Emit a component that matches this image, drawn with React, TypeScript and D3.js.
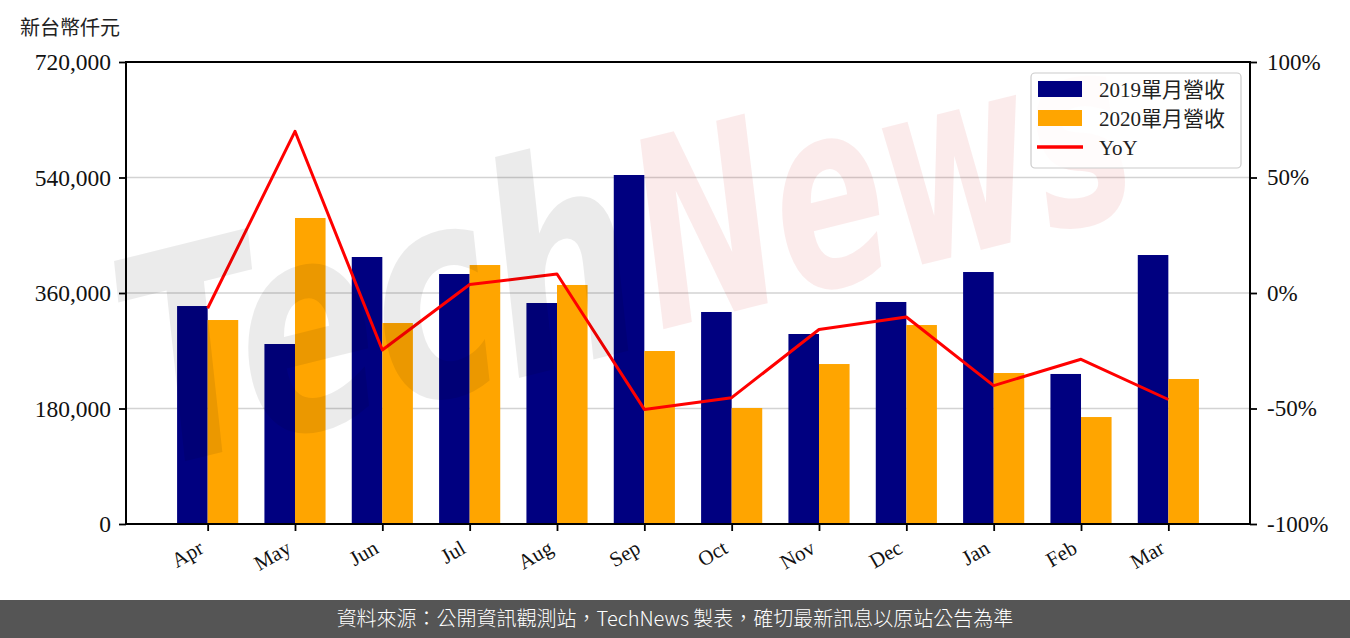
import React, { useEffect, useRef } from "react";
import * as d3 from "d3";

const months = ["Apr", "May", "Jun", "Jul", "Aug", "Sep", "Oct", "Nov", "Dec", "Jan", "Feb", "Mar"];
const rev2019 = [339700, 280500, 416100, 389600, 344400, 543900, 330400, 296100, 346000, 392700, 233800, 419200];
const rev2020 = [317900, 476900, 313200, 403600, 372500, 269600, 180800, 249300, 310100, 235300, 166700, 226000];
const yoy = [-6.6, 70.0, -24.7, 3.7, 8.2, -50.4, -45.3, -15.8, -10.4, -40.1, -28.7, -46.1];
const leftTicks = [0, 180000, 360000, 540000, 720000];
const rightTicks = [-100, -50, 0, 50, 100];
const legendLabels = ["2019單月營收", "2020單月營收", "YoY"];
const unitLabel = "新台幣仟元";
const footerText = "資料來源：公開資訊觀測站，TechNews 製表，確切最新訊息以原站公告為準";

const W = 1350, H = 638;
const L = 126, R = 1250, T = 62, B = 524;
const NAVY = "#000080", ORANGE = "#FFA500", RED = "#FF0000";
const SERIF = "'Liberation Serif', 'Noto Sans CJK TC', serif";

export default function App() {
  const ref = useRef<SVGSVGElement>(null);

  useEffect(() => {
    const svg = d3.select(ref.current);
    svg.selectAll("*").remove();

    const x = d3.scaleLinear().domain([-0.935, 11.935]).range([L, R]);
    const yL = d3.scaleLinear().domain([0, 720000]).range([B, T]);
    const yR = d3.scaleLinear().domain([-100, 100]).range([B, T]);
    const bw = 0.35;

    svg.append("rect").attr("width", W).attr("height", H).attr("fill", "#fff");

    // grid
    svg.append("g").selectAll("line").data(leftTicks.slice(1, -1)).join("line")
      .attr("x1", L).attr("x2", R)
      .attr("y1", (d) => yL(d)).attr("y2", (d) => yL(d))
      .attr("stroke", "#d3d3d3").attr("stroke-width", 1.5);

    // bars
    svg.append("g").selectAll("rect").data(rev2019).join("rect")
      .attr("x", (_, i) => x(i - bw)).attr("width", x(bw) - x(0))
      .attr("y", (d) => yL(d)).attr("height", (d) => B - yL(d))
      .attr("fill", NAVY);
    svg.append("g").selectAll("rect").data(rev2020).join("rect")
      .attr("x", (_, i) => x(i)).attr("width", x(bw) - x(0))
      .attr("y", (d) => yL(d)).attr("height", (d) => B - yL(d))
      .attr("fill", ORANGE);

    // yoy line
    const line = d3.line<number>().x((_, i) => x(i)).y((d) => yR(d));
    svg.append("path").datum(yoy).attr("d", line)
      .attr("fill", "none").attr("stroke", RED).attr("stroke-width", 3)
      .attr("stroke-linejoin", "round");

    // watermark (decorative, drawn as two faint shapes of text)
    const wm = svg.append("g").attr("pointer-events", "none").attr("aria-hidden", "true");
    wm.append("text")
      .attr("transform", "translate(150,470) rotate(-14)")
      .attr("font-family", "'DejaVu Sans', sans-serif").attr("font-weight", "bold")
      .attr("font-style", "italic").attr("font-size", 290)
      .attr("textLength", 520).attr("lengthAdjust", "spacingAndGlyphs")
      .attr("fill", "#000").attr("fill-opacity", 0.08)
      .text("Tech");
    wm.append("text")
      .attr("transform", "translate(660,330) rotate(-14)")
      .attr("font-family", "'DejaVu Sans', sans-serif").attr("font-weight", "bold")
      .attr("font-style", "italic").attr("font-size", 260)
      .attr("textLength", 500).attr("lengthAdjust", "spacingAndGlyphs")
      .attr("fill", "#d00000").attr("fill-opacity", 0.08)
      .text("News");

    // axes
    const axL = svg.append("g").attr("transform", `translate(${L},0)`)
      .call(d3.axisLeft(yL).tickValues(leftTicks).tickFormat(d3.format(",")).tickSize(7).tickPadding(8));
    const axR = svg.append("g").attr("transform", `translate(${R},0)`)
      .call(d3.axisRight(yR).tickValues(rightTicks).tickFormat((d) => `${d}%`).tickSize(7).tickPadding(10));
    const axB = svg.append("g").attr("transform", `translate(0,${B})`)
      .call(d3.axisBottom(x).tickValues(d3.range(months.length)).tickFormat((d) => months[d as number]).tickSize(7));
    [axL, axR, axB].forEach((a) => {
      a.select(".domain").remove();
      a.selectAll(".tick line").attr("stroke", "#000").attr("stroke-width", 1.8);
      a.selectAll(".tick text").attr("font-family", SERIF).attr("fill", "#111");
    });
    axL.selectAll(".tick text").attr("font-size", 23.5);
    axR.selectAll(".tick text").attr("font-size", 23);
    axB.selectAll(".tick text")
      .attr("font-size", 21)
      .attr("text-anchor", "end")
      .attr("y", 0).attr("dy", 0)
      .attr("transform", "translate(-3,28) rotate(-30)");

    // frame
    svg.append("rect").attr("x", L).attr("y", T).attr("width", R - L).attr("height", B - T)
      .attr("fill", "none").attr("stroke", "#000").attr("stroke-width", 2);

    // legend
    const lg = svg.append("g");
    lg.append("rect").attr("x", 1031).attr("y", 73).attr("width", 210).attr("height", 95)
      .attr("rx", 4).attr("fill", "#fff").attr("fill-opacity", 0.85)
      .attr("stroke", "#ccc").attr("stroke-width", 1.2);
    const rows = [89, 118, 147];
    lg.append("rect").attr("x", 1038).attr("y", rows[0] - 8).attr("width", 44).attr("height", 16).attr("fill", NAVY);
    lg.append("rect").attr("x", 1038).attr("y", rows[1] - 8).attr("width", 44).attr("height", 16).attr("fill", ORANGE);
    lg.append("line").attr("x1", 1037).attr("x2", 1083).attr("y1", rows[2]).attr("y2", rows[2])
      .attr("stroke", RED).attr("stroke-width", 3.5);
    legendLabels.forEach((t, i) => {
      lg.append("text").attr("x", 1099).attr("y", rows[i]).attr("dy", "0.36em")
        .attr("font-family", SERIF).attr("font-size", 21).attr("fill", "#222").text(t);
    });

    // unit label
    svg.append("text").attr("x", 20).attr("y", 35)
      .attr("font-family", "'Noto Sans CJK TC', sans-serif").attr("font-size", 20)
      .attr("fill", "#222").text(unitLabel);

    // footer
    svg.append("rect").attr("x", 0).attr("y", 600).attr("width", W).attr("height", 38).attr("fill", "#555555");
    svg.append("text").attr("x", 675).attr("y", 619).attr("dy", "0.36em")
      .attr("text-anchor", "middle")
      .attr("font-family", "'Noto Sans CJK TC', sans-serif").attr("font-size", 20)
      .attr("font-weight", 300)
      .attr("fill", "#fff").text(footerText);
  }, []);

  return (
    <svg ref={ref} width={W} height={H}
      style={{ position: "absolute", left: 0, top: 0, display: "block" }} />
  );
}
